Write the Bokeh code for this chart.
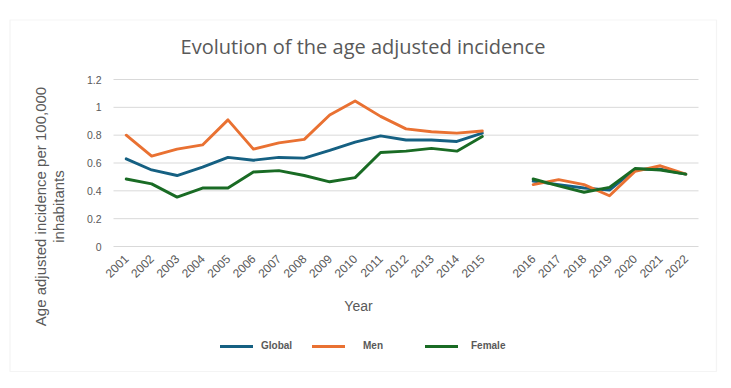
from math import pi, nan

from bokeh.plotting import figure
from bokeh.models import (ColumnDataSource, FixedTicker, CustomJSTickFormatter,
                          Label, Legend, LegendItem, BoxAnnotation, Range1d)
from bokeh.embed import file_html
from bokeh.resources import INLINE

# ---- data -------------------------------------------------------------
years = [2001, 2002, 2003, 2004, 2005, 2006, 2007, 2008, 2009, 2010,
         2011, 2012, 2013, 2014, 2015,
         2016, 2017, 2018, 2019, 2020, 2021, 2022]
global_vals = [0.63, 0.55, 0.51, 0.57, 0.64, 0.62, 0.64, 0.635, 0.69, 0.75,
               0.795, 0.765, 0.765, 0.755, 0.815,
               0.47, 0.445, 0.42, 0.405, 0.555, 0.555, 0.52]
men_vals = [0.80, 0.65, 0.70, 0.73, 0.91, 0.70, 0.745, 0.77, 0.945, 1.045,
            0.935, 0.845, 0.825, 0.815, 0.83,
            0.445, 0.48, 0.445, 0.365, 0.54, 0.58, 0.52]
female_vals = [0.485, 0.45, 0.355, 0.42, 0.42, 0.535, 0.545, 0.51, 0.465, 0.495,
               0.675, 0.685, 0.705, 0.685, 0.79,
               0.485, 0.435, 0.39, 0.425, 0.56, 0.55, 0.52]
y_ticks = [0, 0.2, 0.4, 0.6, 0.8, 1.0, 1.2]
break_after = 2015          # the series are interrupted after this year

# ---- layout constants (canvas pixels) ---------------------------------
W, H = 731, 388
P_LEFT, P_RIGHT, P_TOP, P_BOTTOM = 113, 698, 79, 246   # plotting area
GREY = "#595959"
C_GLOBAL, C_MEN, C_FEMALE = "#156082", "#E97132", "#196B24"

# x slots: one empty slot separates the two periods
slots = [i + (1 if y > break_after else 0) for i, y in enumerate(years)]
gap_at = years.index(break_after) + 1
x_lo, x_hi = -0.5, slots[-1] + 0.5
y_lo, y_hi = y_ticks[0], y_ticks[-1]

# the frame covers the whole canvas; ranges are widened so that the
# plotting area lands where the margins leave room for titles and legend
kx = (P_RIGHT - P_LEFT) / (x_hi - x_lo)
ky = (P_BOTTOM - P_TOP) / (y_hi - y_lo)
x_range = Range1d(x_lo - P_LEFT / kx, x_hi + (W - P_RIGHT) / kx)
y_range = Range1d(y_lo - (H - P_BOTTOM) / ky, y_hi + P_TOP / ky)


def sx(cx):
    return cx


def sy(cy):
    """canvas y (top-down) -> screen units (bottom-up)"""
    return H - cy


xs = slots[:gap_at] + [nan] + slots[gap_at:]


def with_gap(vals):
    return list(vals[:gap_at]) + [nan] + list(vals[gap_at:])


source = ColumnDataSource(dict(
    x=xs,
    g=with_gap(global_vals),
    m=with_gap(men_vals),
    f=with_gap(female_vals),
))

p = figure(width=W, height=H, x_range=x_range, y_range=y_range,
           min_border=0, output_backend="svg", toolbar_location=None)
p.outline_line_color = None
p.background_fill_color = "white"
p.border_fill_color = "white"
p.xgrid.grid_line_color = None
p.ygrid.grid_line_color = None

# horizontal gridlines across the plotting area only
p.segment(x0=[x_lo] * len(y_ticks), x1=[x_hi] * len(y_ticks),
          y0=y_ticks, y1=y_ticks, line_color="#d9d9d9", line_width=1)

# ---- axes pinned to the plotting area ---------------------------------
p.yaxis.fixed_location = x_lo
p.xaxis.fixed_location = y_lo
p.yaxis.ticker = FixedTicker(ticks=y_ticks)
p.yaxis.formatter = CustomJSTickFormatter(
    code="return tick.toFixed(1).replace(/\\.0$/, '');")
p.xaxis.ticker = FixedTicker(ticks=slots)
p.xaxis.major_label_overrides = {s: str(y) for s, y in zip(slots, years)}
p.xaxis.major_label_orientation = pi / 4

for ax in (p.xaxis[0], p.yaxis[0]):
    ax.axis_line_color = None
    ax.major_tick_line_color = None
    ax.minor_tick_line_color = None
    ax.major_tick_in = 0
    ax.major_tick_out = 0
    ax.major_label_text_color = GREY
    ax.major_label_text_font = "Liberation Sans"
p.yaxis.major_label_text_font_size = "10.5px"
p.yaxis.major_label_standoff = 12
p.xaxis.major_label_text_font_size = "12px"
p.xaxis.major_label_standoff = 10

# ---- series -----------------------------------------------------------
lw = 2.9
r_g = p.line("x", "g", source=source, line_color=C_GLOBAL, line_width=lw,
             line_join="round", line_cap="round")
r_m = p.line("x", "m", source=source, line_color=C_MEN, line_width=lw,
             line_join="round", line_cap="round")
r_f = p.line("x", "f", source=source, line_color=C_FEMALE, line_width=lw,
             line_join="round", line_cap="round")

# ---- chart border -------------------------------------------------------
p.add_layout(BoxAnnotation(left=sx(9.5), right=sx(716), top=sy(19.5), bottom=sy(371),
                           left_units="screen", right_units="screen",
                           top_units="screen", bottom_units="screen",
                           fill_alpha=0, line_color="#d9d9d9", line_width=1.2,
                           level="underlay"))

# ---- texts --------------------------------------------------------------
p.add_layout(Label(x=sx(362.5), y=sy(46), x_units="screen", y_units="screen",
                   text="Evolution of the age adjusted incidence",
                   text_align="center", text_baseline="middle",
                   text_font="Open Sans", text_font_size="20px", text_color=GREY))
p.add_layout(Label(x=sx(40), y=sy(206), x_units="screen", y_units="screen",
                   text="Age adjusted incidence per 100,000", angle=pi / 2,
                   text_align="center", text_baseline="middle",
                   text_font="Liberation Sans", text_font_size="15px", text_color=GREY))
p.add_layout(Label(x=sx(58), y=sy(206), x_units="screen", y_units="screen",
                   text="inhabitants", angle=pi / 2,
                   text_align="center", text_baseline="middle",
                   text_font="Liberation Sans", text_font_size="15px", text_color=GREY))
p.add_layout(Label(x=sx(358), y=sy(305), x_units="screen", y_units="screen",
                   text="Year", text_align="center", text_baseline="middle",
                   text_font="Liberation Sans", text_font_size="14px", text_color=GREY))

# ---- legend: one entry per box so each sits where it belongs ----------
legend_y = 346
for label, rend, line_x, standoff in (("Global", r_g, 220, 8),
                                      ("Men", r_m, 312, 18),
                                      ("Female", r_f, 425, 13)):
    lg = Legend(items=[LegendItem(label=label, renderers=[rend])],
                location=(sx(line_x), sy(legend_y + 5)),
                orientation="horizontal", glyph_width=33, glyph_height=10,
                label_height=10, label_standoff=standoff, padding=0, margin=0,
                spacing=0, border_line_color=None, background_fill_alpha=0,
                label_text_font="Liberation Sans", label_text_font_size="10px",
                label_text_font_style="bold", label_text_color=GREY,
                label_text_baseline="middle")
    p.add_layout(lg, "center")

open("out.html", "w").write(file_html(p, INLINE))
